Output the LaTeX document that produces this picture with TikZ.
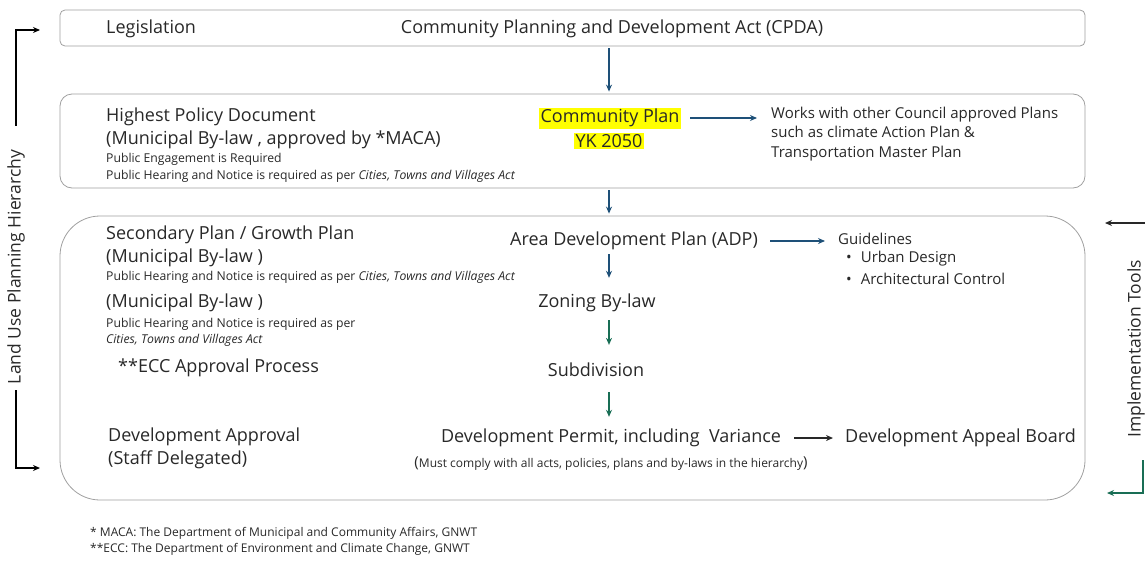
\documentclass[tikz,border=0pt]{standalone}
\usepackage{fontspec}
\setmainfont{Open Sans}
\usetikzlibrary{arrows.meta,positioning}
\definecolor{framegray}{RGB}{160,160,160}
\definecolor{inkgray}{RGB}{40,40,40}
\definecolor{planblue}{RGB}{30,80,120}
\definecolor{plangreen}{RGB}{25,110,85}
\definecolor{hiyellow}{RGB}{255,255,0}
\tikzset{
  panel/.style={rectangle,draw=framegray,line width=0.8pt,inner sep=0pt},
  lbl/.style={anchor=west,inner sep=0pt,text=inkgray,font=\fontsize{18}{21}\selectfont},
  midlbl/.style={inner sep=0pt,text=inkgray,font=\fontsize{18}{21}\selectfont},
  note/.style={anchor=west,inner sep=0pt,text=inkgray,font=\fontsize{12.2}{14}\selectfont},
  sidenote/.style={anchor=west,inner sep=0pt,text=inkgray,align=left,font=\fontsize{15}{19.5}\selectfont},
  footnote/.style={anchor=west,inner sep=0pt,text=inkgray,font=\fontsize{12}{14}\selectfont},
  hilite/.style={midlbl,fill=hiyellow,inner sep=1.5pt},
  sidelbl/.style={inner sep=0pt,text=inkgray,font=\fontsize{17.5}{20}\selectfont},
  bluearr/.style={-{Stealth[length=7pt,width=6pt]},line width=1.4pt,color=planblue},
  greenarr/.style={-{Stealth[length=7pt,width=6pt]},line width=1.4pt,color=plangreen},
  grayarr/.style={-{Stealth[length=7pt,width=6pt]},line width=1.4pt,color=inkgray},
  sidearr/.style={-{Stealth[length=7pt,width=6pt]},line width=1.6pt,color=black}
}

\begin{document}
\begin{tikzpicture}[x=1pt,y=-1pt]
  \useasboundingbox (0,0) rectangle (1145,560);
  \begin{scope}
  \clip (0,0) rectangle (1145,560);

  %% Hierarchy panels
  \node[panel,rounded corners=5pt,minimum width=1025pt,minimum height=36pt] (legbox) at (572.5,28) {};
  \node[panel,rounded corners=12pt,minimum width=1025pt,minimum height=94pt] (polbox) at (572.5,141) {};
  \node[panel,rounded corners=40pt,minimum width=1025pt,minimum height=284pt] (secbox) at (572.5,358) {};
  \coordinate (spine) at (609,0);

  %% Legislation
  \node[lbl] (leg) at (106,29) {Legislation};
  \node[midlbl] (cpda) at (612,29) {Community Planning and Development Act (CPDA)};

  %% Highest policy document
  \node[lbl] (hpd) at (106,117) {Highest Policy Document};
  \node[lbl] (hpdlaw) at (106,140) {(Municipal By-law , approved by *MACA)};
  \node[note] (engage) at (106,159) {Public Engagement is Required};
  \node[note] (hear1) at (106,176) {Public Hearing and Notice is required as per \textit{Cities, Towns and Villages Act}};
  \node[hilite] (cplan) at (610,118) {Community Plan};
  \node[hilite] (yk) at (609,141) {YK 2050};
  \node[sidenote] (works) at (771,134) {Works with other Council approved Plans\\such as climate Action Plan \&\\Transportation Master Plan};

  %% Secondary plans
  \node[lbl] (sec) at (106,235) {Secondary Plan / Growth Plan};
  \node[lbl] (seclaw) at (106,258) {(Municipal By-law )};
  \node[note] (hear2) at (106,277) {Public Hearing and Notice is required as per \textit{Cities, Towns and Villages Act}};
  \node[lbl] (adplaw) at (106,303) {(Municipal By-law )};
  \node[note] (hear3) at (106,324) {Public Hearing and Notice is required as per};
  \node[note] (hear3b) at (106,340) {\textit{Cities, Towns and Villages Act}};
  \node[lbl] (ecc) at (118,368) {**ECC Approval Process};
  \node[lbl] (devapp) at (108,437) {Development Approval};
  \node[lbl] (staff) at (108,460) {(Staff Delegated)};

  \node[midlbl] (adp) at (634,241) {Area Development Plan (ADP)};
  \node[midlbl] (zoning) at (597,303) {Zoning By-law};
  \node[midlbl] (subdiv) at (596,370) {Subdivision};
  \node[midlbl] (permit) at (611,438) {Development Permit, including\ \ Variance};
  \node[inner sep=0pt,text=inkgray,font=\fontsize{12}{14}\selectfont] (comply) at (611,464) {{\fontsize{15}{15}\selectfont(}Must comply with all acts, policies, plans and by-laws in the hierarchy{\fontsize{15}{15}\selectfont)}};

  \node[sidenote] (guide) at (838,239) {Guidelines};
  \node[sidenote] (urban) at (846,259) {\textbullet\hspace{9pt}Urban Design};
  \node[sidenote] (arch) at (846,279) {\textbullet\hspace{9pt}Architectural Control};
  \node[lbl] (appeal) at (845,438) {Development Appeal Board};

  %% Footnotes
  \node[footnote] (fn1) at (90,533) {* MACA: The Department of Municipal and Community Affairs, GNWT};
  \node[footnote] (fn2) at (90,549) {**ECC: The Department of Environment and Climate Change, GNWT};

  %% Flow arrows
  \draw[bluearr,shorten <=2pt,shorten >=2pt] (legbox.south -| spine) -- (polbox.north -| spine);
  \draw[bluearr,shorten <=2pt,shorten >=2pt] (polbox.south -| spine) -- (secbox.north -| spine);
  \draw[bluearr,shorten <=4pt,shorten >=16pt] (adp.south -| spine) -- (zoning.north -| spine);
  \draw[greenarr,shorten <=8pt,shorten >=18pt] (zoning.south -| spine) -- (subdiv.north -| spine);
  \draw[greenarr,shorten <=15pt,shorten >=12pt] (subdiv.south -| spine) -- (permit.north -| spine);
  \draw[bluearr,shorten <=9pt,shorten >=14pt] (cplan.east) -- (cplan.east -| works.west);
  \draw[bluearr,shorten <=12pt,shorten >=13pt] (adp.east) -- (adp.east -| guide.west);
  \draw[grayarr,shorten <=13pt,shorten >=12pt] (permit.east) -- (permit.east -| appeal.west);

  %% Side labels
  \node[sidelbl,rotate=90] (luph) at (16,267) {Land Use Planning Hierarchy};
  \coordinate (hiertop) at (40,30);
  \coordinate (hierend) at (40,468);
  \draw[sidearr,shorten <=24pt] (luph.east) |- (hiertop);
  \draw[sidearr,shorten <=6pt] (luph.west) |- (hierend);

  \node[sidelbl,rotate=90] (impl) at (1136,349) {Implementation Tools};
  \coordinate (impltop) at (1145,223);
  \coordinate (impltopend) at (1105,223);
  \coordinate (implend) at (1107,493);
  \draw[grayarr,line width=1.6pt] (impltop) -- (impltopend);
  \draw[greenarr,line width=1.6pt,shorten <=22pt] ([xshift=7pt]impl.west) |- (implend);
  \end{scope}
\end{tikzpicture}
\end{document}
